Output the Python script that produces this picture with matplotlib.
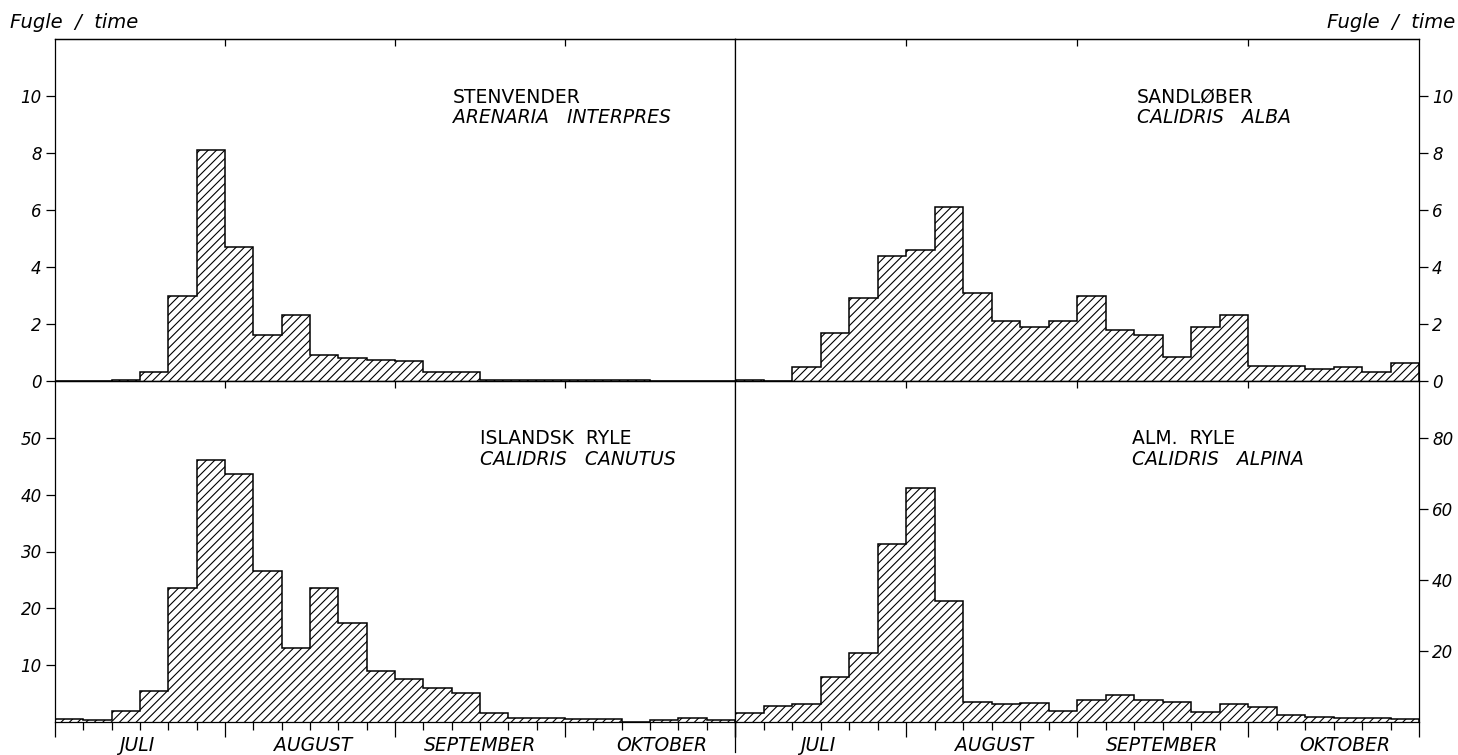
import numpy as np
import matplotlib.pyplot as plt
from matplotlib.lines import Line2D

plt.rcParams['hatch.linewidth'] = 0.8
plt.rcParams['hatch.color'] = 'black'
plt.rcParams['font.family'] = 'DejaVu Sans'

# 24 five-day periods, July - October (6 per month)
edges = np.arange(25)
months = ['JULI', 'AUGUST', 'SEPTEMBER', 'OKTOBER']
month_pos = [2.9, 9.1, 15.0, 21.4]

# birds per hour
stenvender = [0, 0, 0.05, 0.3, 3.0, 8.1, 4.7, 1.6, 2.3, 0.9, 0.8, 0.72,
              0.7, 0.3, 0.3, 0.03, 0.03, 0.03, 0.03, 0.03, 0.03, 0, 0, 0]
sandloeber = [0.05, 0, 0.5, 1.7, 2.9, 4.4, 4.6, 6.1, 3.1, 2.1, 1.9, 2.1,
              3.0, 1.8, 1.6, 0.83, 1.9, 2.3, 0.52, 0.52, 0.41, 0.5, 0.3, 0.62]
islandsk = [0.5, 0.3, 2.0, 5.5, 23.6, 46.1, 43.6, 26.6, 13.1, 23.6, 17.5, 9.0,
            7.5, 6.0, 5.1, 1.6, 0.75, 0.7, 0.6, 0.6, 0, 0.3, 0.75, 0.3]
alm_ryle = [2.4, 4.5, 5.0, 12.7, 19.4, 50.2, 66.0, 34.0, 5.7, 5.2, 5.35, 3.1,
            6.3, 7.6, 6.2, 5.6, 2.8, 5.0, 4.3, 2.0, 1.4, 1.2, 1.2, 0.8]

panels = [
    # data, name, latin, ylim, yticks, side, bottom?, text x
    (stenvender, 'STENVENDER', 'ARENARIA   INTERPRES', 12, [0, 2, 4, 6, 8, 10], 'left', False, 0.585),
    (sandloeber, 'SANDLØBER', 'CALIDRIS   ALBA', 12, [0, 2, 4, 6, 8, 10], 'right', False, 0.588),
    (islandsk, 'ISLANDSK  RYLE', 'CALIDRIS   CANUTUS', 60, [10, 20, 30, 40, 50], 'left', True, 0.625),
    (alm_ryle, 'ALM.  RYLE', 'CALIDRIS   ALPINA', 96, [20, 40, 60, 80], 'right', True, 0.580),
]

W, H = 1458, 755
fig = plt.figure(figsize=(W / 100, H / 100), dpi=100)

rects = [
    (55, 39, 680, 342),
    (735, 39, 684, 342),
    (55, 381, 680, 341),
    (735, 381, 684, 341),
]

for (vals, name, latin, ytop, yt, side, bottom, tx), (x0, y0, w, h) in zip(panels, rects):
    ax = fig.add_axes([x0 / W, 1 - (y0 + h) / H, w / W, h / H])
    ax.stairs(vals, edges, fill=True, facecolor='none', edgecolor='black',
              hatch='////', linewidth=1.1)
    ax.set_xlim(0, 24)
    ax.set_ylim(0, ytop)
    for s in ax.spines.values():
        s.set_linewidth(0.9)

    ax.set_yticks(yt)
    if side == 'right':
        ax.yaxis.tick_right()
    ax.tick_params(axis='y', direction='out', length=6.5, width=0.9,
                   labelsize=12, pad=3)
    for lab in ax.get_yticklabels():
        lab.set_fontstyle('italic')

    if bottom:
        ax.set_xticks([0, 6, 12, 18, 24])
        ax.set_xticks(range(25), minor=True)
        ax.tick_params(axis='x', which='major', direction='out', length=11, width=0.9)
        ax.tick_params(axis='x', which='minor', direction='out', length=5.5, width=0.9)
        ax.set_xticklabels([])
        for m, p in zip(months, month_pos):
            ax.text(p, -0.068, m, transform=ax.get_xaxis_transform(),
                    ha='center', va='center', fontsize=13.5, fontstyle='italic')
    else:
        ax.set_xticks([])

    top = ax.secondary_xaxis('top')
    top.set_xticks([6, 12, 18])
    top.set_xticklabels([])
    top.tick_params(direction='in', length=5, width=0.9)
    top.spines['top'].set_linewidth(0.9)

    ax.text(tx, 0.83, name, transform=ax.transAxes, fontsize=13.5,
            ha='left', va='center')
    ax.text(tx, 0.77, latin, transform=ax.transAxes, fontsize=13.5,
            ha='left', va='center', fontstyle='italic')

fig.text(10 / W, 1 - 22 / H, 'Fugle  /  time', fontsize=14, fontstyle='italic',
         ha='left', va='center')
fig.text(1455 / W, 1 - 22 / H, 'Fugle  /  time', fontsize=14, fontstyle='italic',
         ha='right', va='center')

# divider running down below the bottom axis
fig.add_artist(Line2D([735 / W, 735 / W], [1 - 722 / H, 1 - 752 / H],
                      color='black', linewidth=0.9))

fig.savefig('out.png', dpi=100, facecolor='white')
